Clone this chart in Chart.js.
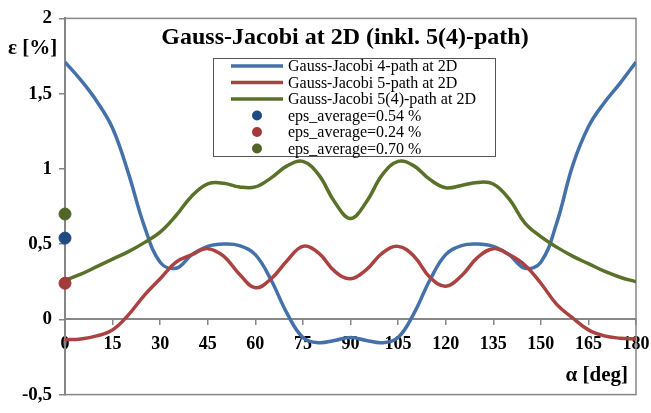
<!DOCTYPE html>
<html>
<head>
<meta charset="utf-8">
<title>Gauss-Jacobi at 2D</title>
<script src="https://cdn.jsdelivr.net/npm/chart.js@4.4.1/dist/chart.umd.min.js"></script>
<style>
  html, body { margin: 0; padding: 0; background: #fff; }
</style>
</head>
<body>
<canvas id="chart" width="651" height="413"></canvas>
<script>
// angle alpha in degrees
const angles = [0, 5, 10, 15, 20, 25, 30, 35, 40, 45, 50, 55, 60, 65, 70, 75, 80, 85, 90,
                95, 100, 105, 110, 115, 120, 125, 130, 135, 140, 145, 150, 155, 160, 165, 170, 175, 180];

// error epsilon in %
const path4 = [1.71, 1.59, 1.45, 1.27, 0.97, 0.62, 0.38, 0.34, 0.43, 0.485, 0.50, 0.49, 0.43, 0.26, 0.04, -0.12, -0.155, -0.14, -0.12,
               -0.14, -0.155, -0.12, 0.04, 0.26, 0.43, 0.49, 0.50, 0.485, 0.43, 0.34, 0.38, 0.64, 1.02, 1.28, 1.44, 1.57, 1.71];
const path5 = [-0.135, -0.13, -0.11, -0.07, 0.03, 0.16, 0.27, 0.38, 0.43, 0.47, 0.42, 0.30, 0.21, 0.27, 0.39, 0.485, 0.44, 0.32, 0.27,
               0.33, 0.44, 0.485, 0.42, 0.28, 0.22, 0.29, 0.41, 0.47, 0.43, 0.36, 0.24, 0.10, 0.01, -0.07, -0.11, -0.125, -0.13];
const path54 = [0.26, 0.30, 0.35, 0.40, 0.45, 0.51, 0.58, 0.69, 0.82, 0.90, 0.905, 0.88, 0.88, 0.94, 1.02, 1.05, 0.96, 0.78, 0.67,
                0.78, 0.96, 1.05, 1.02, 0.93, 0.875, 0.89, 0.91, 0.90, 0.80, 0.64, 0.55, 0.48, 0.42, 0.37, 0.32, 0.28, 0.25];

const seriesNames = ["Gauss-Jacobi 4-path at 2D", "Gauss-Jacobi 5-path at 2D", "Gauss-Jacobi 5(4)-path at 2D"];
const epsAverage = [0.54, 0.24, 0.70];
const lineColors = ["#4471a9", "#ab4241", "#5a7129"];
const dotColors = ["#1f4b82", "#a23a39", "#506527"];

const yTicks = [-0.5, 0, 0.5, 1, 1.5, 2];
const xTicks = [0, 15, 30, 45, 60, 75, 90, 105, 120, 135, 150, 165, 180];

const serif = "'Liberation Serif', 'Times New Roman', serif";

function points(values) {
    return values.map((v, i) => ({ x: angles[i], y: v }));
}

const lineSets = [path4, path5, path54].map((values, i) => ({
    type: "line",
    label: seriesNames[i],
    data: points(values),
    borderColor: lineColors[i],
    backgroundColor: lineColors[i],
    borderWidth: 3.5,
    pointRadius: 0,
    tension: 0.4,
    fill: false,
    order: 3 - i,
}));

const dotSets = epsAverage.map((v, i) => ({
    type: "scatter",
    label: "eps_average=" + v.toFixed(2) + " %",
    data: [{ x: 0, y: v }],
    backgroundColor: dotColors[i],
    borderColor: dotColors[i],
    pointRadius: 6,
    clip: false,
    order: 0,
}));

// frame, title, axis titles and legend box
const decor = {
    id: "decor",
    beforeDatasetsDraw(chart) {
        const { ctx, chartArea: a } = chart;
        ctx.save();
        ctx.strokeStyle = "#868686";
        ctx.lineWidth = 1.5;
        ctx.strokeRect(a.left, a.top, a.right - a.left, a.bottom - a.top);
        ctx.restore();
    },
    afterDraw(chart) {
        const ctx = chart.ctx;
        ctx.save();
        ctx.fillStyle = "#000";

        ctx.font = "bold 24px " + serif;
        ctx.textAlign = "center";
        ctx.textBaseline = "alphabetic";
        ctx.fillText("Gauss-Jacobi at 2D (inkl. 5(4)-path)", 345, 44);

        ctx.font = "bold 21px " + serif;
        ctx.textAlign = "left";
        ctx.textBaseline = "middle";
        ctx.fillText("ε [%]", 8, 49);
        ctx.textAlign = "right";
        ctx.fillText("α [deg]", 628, 376);

        // legend
        const bx = 213, by = 58, bw = 282, bh = 98;
        ctx.fillStyle = "#fff";
        ctx.fillRect(bx, by, bw, bh);
        ctx.strokeStyle = "#555";
        ctx.lineWidth = 1;
        ctx.strokeRect(bx + 0.5, by + 0.5, bw, bh);

        ctx.font = "16px " + serif;
        ctx.textAlign = "left";
        ctx.textBaseline = "middle";
        const rows = lineSets.concat(dotSets);
        rows.forEach((ds, i) => {
            const y = 66 + i * 16.5;
            if (ds.type === "line") {
                ctx.strokeStyle = ds.borderColor;
                ctx.lineWidth = 3.5;
                ctx.beginPath();
                ctx.moveTo(231, y);
                ctx.lineTo(283, y);
                ctx.stroke();
            } else {
                ctx.fillStyle = ds.backgroundColor;
                ctx.beginPath();
                ctx.arc(257, y, 5, 0, Math.PI * 2);
                ctx.fill();
            }
            ctx.fillStyle = "#000";
            ctx.fillText(ds.label, 288, y + 1);
        });
        ctx.restore();
    },
};

new Chart(document.getElementById("chart"), {
    data: { datasets: lineSets.concat(dotSets) },
    options: {
        responsive: false,
        animation: false,
        layout: { padding: { left: 0, top: 15, right: 15, bottom: 13 } },
        plugins: {
            legend: { display: false },
            tooltip: { enabled: false },
        },
        scales: {
            x: {
                type: "linear",
                position: { y: 0 },
                min: 0,
                max: 180,
                afterBuildTicks: (scale) => { scale.ticks = xTicks.map((v) => ({ value: v })); },
                // labels at the ends may hang over, keep the plot box fixed
                afterFit: (scale) => { scale.paddingLeft = 0; scale.paddingRight = 0; },
                ticks: {
                    color: "#000",
                    font: { family: serif, size: 18, weight: "bold" },
                    padding: 9,
                    maxRotation: 0,
                    autoSkip: false,
                },
                grid: { drawOnChartArea: false, tickLength: 5, color: "#868686", lineWidth: 1.5 },
                border: { color: "#868686", width: 2 },
            },
            y: {
                type: "linear",
                min: -0.5,
                max: 2,
                afterBuildTicks: (scale) => { scale.ticks = yTicks.map((v) => ({ value: v })); },
                afterFit: (scale) => { scale.width = 65; },
                ticks: {
                    color: "#000",
                    font: { family: serif, size: 19, weight: "bold" },
                    padding: 7,
                    callback: (value) => String(value).replace(".", ","),
                },
                grid: { drawOnChartArea: false, tickLength: 6, color: "#868686", lineWidth: 1.5 },
                border: { color: "#868686", width: 2 },
            },
        },
    },
    plugins: [decor],
});
</script>
</body>
</html>
